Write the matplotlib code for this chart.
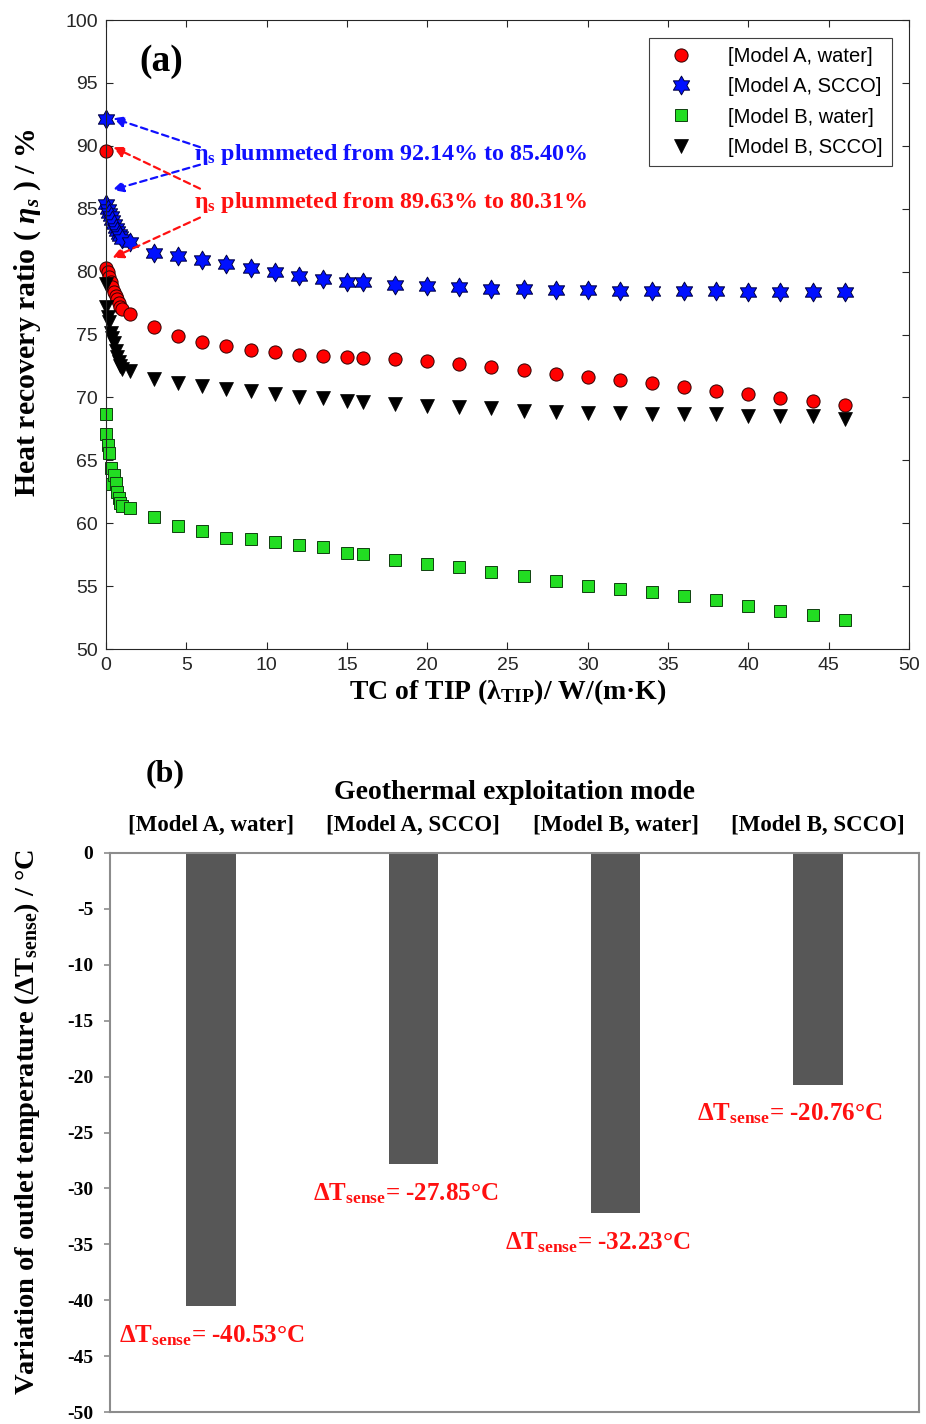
import matplotlib
matplotlib.use('Agg')
import matplotlib.pyplot as plt
import numpy as np
from matplotlib.path import Path

plt.rcParams['mathtext.fontset'] = 'custom'
plt.rcParams['mathtext.rm'] = 'Liberation Serif:bold'
plt.rcParams['mathtext.it'] = 'Liberation Serif:italic:bold'
plt.rcParams['mathtext.bf'] = 'Liberation Serif:bold'

# ---- panel (a) data: TC of TIP vs heat recovery ratio
tc = [0, 0.02, 0.1, 0.2, 0.3, 0.4, 0.5, 0.6, 0.7, 0.8, 0.9, 1.0, 1.5,
      3, 4.5, 6, 7.5, 9, 10.5, 12, 13.5, 15, 16,
      18, 20, 22, 24, 26, 28, 30, 32, 34, 36, 38, 40, 42, 44, 46]

a_water = [89.63, 80.31, 80.0, 79.6, 79.2, 78.8, 78.4, 78.1, 77.8, 77.5, 77.2, 77.0, 76.6,
           75.6, 74.9, 74.4, 74.1, 73.8, 73.65, 73.4, 73.3, 73.2, 73.15,
           73.05, 72.9, 72.65, 72.4, 72.15, 71.85, 71.6, 71.4, 71.15, 70.85, 70.55, 70.25,
           69.95, 69.7, 69.4]
a_scco = [92.14, 85.40, 85.0, 84.7, 84.4, 84.1, 83.8, 83.5, 83.2, 83.0, 82.8, 82.6, 82.35,
          81.5, 81.25, 80.9, 80.6, 80.3, 79.95, 79.65, 79.4, 79.2, 79.15,
          78.95, 78.85, 78.75, 78.65, 78.65, 78.55, 78.55, 78.5, 78.5, 78.45, 78.45, 78.4,
          78.4, 78.4, 78.35]
b_water = [68.7, 67.1, 66.2, 65.6, 64.4, 63.1, 63.8, 63.2, 62.5, 62.0, 61.6, 61.4, 61.2,
           60.5, 59.8, 59.4, 58.85, 58.75, 58.5, 58.3, 58.1, 57.65, 57.55,
           57.1, 56.8, 56.5, 56.1, 55.8, 55.4, 55.0, 54.8, 54.5, 54.2, 53.9, 53.4,
           53.0, 52.7, 52.3]
b_scco = [79.0, 77.2, 76.4, 76.0, 75.1, 74.7, 74.3, 73.7, 73.2, 72.8, 72.5, 72.3, 72.1,
          71.45, 71.15, 70.9, 70.7, 70.5, 70.3, 70.05, 69.95, 69.75, 69.6,
          69.45, 69.35, 69.25, 69.15, 68.95, 68.85, 68.75, 68.75, 68.65, 68.65, 68.65, 68.55,
          68.55, 68.55, 68.3]

# ---- panel (b) data
modes = ['[Model A, water]', '[Model A, SCCO]', '[Model B, water]', '[Model B, SCCO]']
dt_sense = [-40.53, -27.85, -32.23, -20.76]

fig = plt.figure(figsize=(9.26, 14.24), dpi=100)
serif = 'Liberation Serif'

# ================= (a)
ax = fig.add_axes([0.1145, 0.5442, 0.867, 0.4417])
hexagram = Path.unit_regular_star(6, 0.577)
ax.plot(tc, a_water, 'o', ms=9.5, mfc='red', mec='#300000', mew=0.7,
        label='[Model A, water]', clip_on=False)
ax.plot(tc, a_scco, linestyle='none', marker=hexagram, ms=13.5, mfc='#0010ff', mec='#000040',
        mew=0.7, label='[Model A, SCCO]', clip_on=False)
ax.plot(tc, b_water, 's', ms=8, mfc='#22dd22', mec='#104010', mew=0.7,
        label='[Model B, water]', clip_on=False)
ax.plot(tc, b_scco, 'v', ms=10, mfc='black', mec='black', mew=0.5,
        label='[Model B, SCCO]', clip_on=False)

ax.set_xlim(0, 50)
ax.set_ylim(50, 100)
ax.set_xticks(np.arange(0, 51, 5))
ax.set_yticks(np.arange(50, 101, 5))
ax.tick_params(direction='in', top=True, right=True, length=5, width=0.8,
               labelsize=14, colors='#262626', pad=6)
for lab in ax.get_xticklabels() + ax.get_yticklabels():
    lab.set_family('Liberation Sans')
for sp in ax.spines.values():
    sp.set_color('#262626')
    sp.set_linewidth(0.8)

ax.set_xlabel('TC of TIP (λ$_\\mathregular{TIP}$)/ W/(m·K)', family=serif,
              fontweight='bold', fontsize=20, labelpad=2)
ax.set_ylabel('Heat recovery ratio ( $\\eta_s$ ) / %', family=serif,
              fontweight='bold', fontsize=21.5)
ax.yaxis.set_label_coords(-0.078, 0.535)
ax.text(2.1, 96.7, '(a)', family=serif, fontweight='bold', fontsize=27,
        ha='left', va='center')

leg = ax.legend(loc='upper right', bbox_to_anchor=(0.979, 0.971), fancybox=False,
                framealpha=1, edgecolor='#404040', prop={'family': 'Liberation Sans', 'size': 14.5},
                handletextpad=1.2, labelspacing=0.55, borderpad=0.45, borderaxespad=0,
                handlelength=2.3)
leg.get_frame().set_linewidth(0.8)

tfont = dict(family=serif, fontweight='bold', fontsize=17.3)
ax.text(5.5, 89.3, 'η$_\\mathregular{s}$ plummeted from 92.14% to 85.40%', color='#1010ff',
        va='center', **tfont)
ax.text(5.5, 85.5, 'η$_\\mathregular{s}$ plummeted from 89.63% to 80.31%', color='#ff1010',
        va='center', **tfont)


def dashed_arrow(start, end, color):
    ax.annotate('', xy=end, xytext=start,
                arrowprops=dict(arrowstyle='-|>', color=color, lw=1.6, linestyle=(0, (3, 2)),
                                mutation_scale=16, shrinkA=0, shrinkB=0))


dashed_arrow((5.85, 89.9), (0.45, 92.2), '#1010ff')
dashed_arrow((5.85, 88.5), (0.4, 86.5), '#1010ff')
dashed_arrow((5.85, 86.6), (0.45, 89.9), '#ff1010')
dashed_arrow((5.85, 84.3), (0.4, 81.1), '#ff1010')

# ================= (b)
bx = fig.add_axes([0.1188, 0.0084, 0.8737, 0.3926])
pos = np.arange(len(modes))
bx.bar(pos, dt_sense, width=0.245, color='#575757')
bx.set_xlim(-0.5, len(modes) - 0.5)
bx.set_ylim(-50, 0)
bx.set_yticks(np.arange(-50, 1, 5))
bx.set_yticklabels([f'{v:d}' for v in range(-50, 1, 5)], family=serif,
                   fontweight='bold', fontsize=14)
bx.xaxis.tick_top()
bx.xaxis.set_label_position('top')
bx.set_xticks(pos)
bx.set_xticklabels(modes, family=serif, fontweight='bold', fontsize=16.5)
bx.tick_params(axis='x', length=0, pad=12)
bx.tick_params(axis='y', direction='out', length=4, color='#8c8c8c', width=1.2, pad=8)
bx.set_xlabel('Geothermal exploitation mode', family=serif, fontweight='bold',
              fontsize=20, labelpad=12)
bx.set_ylabel('Variation of outlet temperature (ΔT$_\\mathregular{sense}$) / °C',
              family=serif, fontweight='bold', fontsize=20.5)
bx.yaxis.set_label_coords(-0.084, 0.519)
for sp in bx.spines.values():
    sp.set_color('#8c8c8c')
    sp.set_linewidth(1.5)

fig.text(0.178, 0.457, '(b)', family=serif, fontweight='bold', fontsize=23,
         ha='center', va='center')

label_shift = [0.0, -0.04, -0.09, -0.14]
for p, v, s in zip(pos, dt_sense, label_shift):
    bx.text(p + s, v - 2.6, f'ΔT$_\\mathregular{{sense}}$= {v:.2f}°C', color='#ff1010',
            ha='center', va='center', family=serif, fontweight='bold', fontsize=18)

fig.savefig('out.png', dpi=100)
